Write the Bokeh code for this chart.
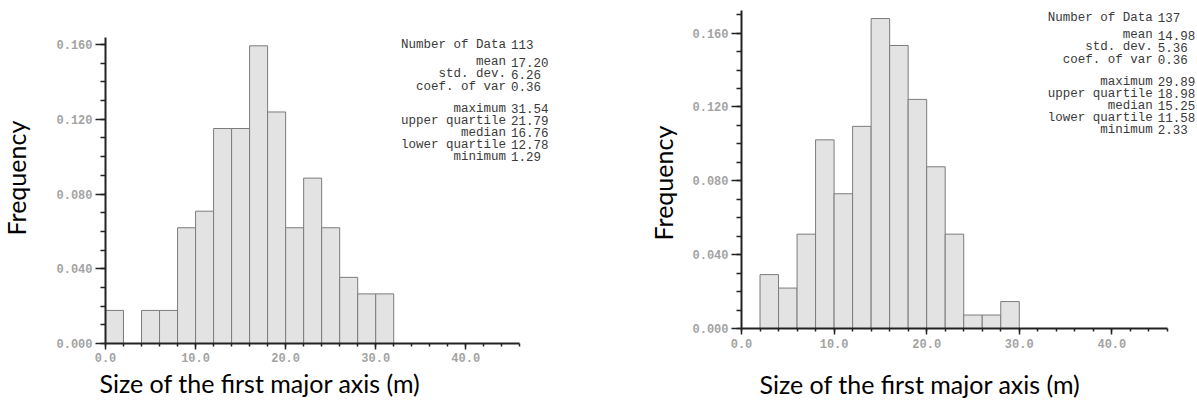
from bokeh.plotting import figure
from bokeh.layouts import row
from bokeh.models import Range1d, FixedTicker, PrintfTickFormatter, Title, ColumnDataSource
from bokeh.core.properties import value
from bokeh.embed import file_html
from bokeh.resources import INLINE

# ---------------- data ----------------
bin_width = 2.0
# left histogram (bins of 2 m starting at 0)
counts_a = [2, 0, 2, 2, 7, 8, 13, 13, 18, 14, 7, 10, 7, 4, 3, 3]
n_a = 113
# right histogram
counts_b = [0, 4, 3, 7, 14, 10, 15, 23, 21, 17, 12, 7, 1, 1, 2]
n_b = 137

stat_names = ["Number of Data", "mean", "std. dev.", "coef. of var",
              "maximum", "upper quartile", "median", "lower quartile", "minimum"]
stats_a = ["113", "17.20", "6.26", "0.36", "31.54", "21.79", "16.76", "12.78", "1.29"]
stats_b = ["137", "14.98", "5.36", "0.36", "29.89", "18.98", "15.25", "11.58", "2.33"]

y_major = [0.0, 0.04, 0.08, 0.12, 0.16]
y_minor_all = [i / 100 for i in range(0, 18)]
x_major = [0, 10, 20, 30, 40]
x_minor = list(range(0, 47, 2))

x_label = "Size of the first major axis (m)"
y_label = "Frequency"

# ---------------- styling / layout ----------------
MONO = "Liberation Mono"
SANS = "Lato"
LABEL_SIZE = "25px"
STAT_SIZE = "12.5px"
FIG_H = 401
stat_row_offsets = [0, 17.5, 29.5, 42, 64, 76, 88, 100, 112]


def spacer_title(size):
    # invisible title used only to reserve space in a side panel
    return Title(text=" ", text_font_size="1px", standoff=size, text_color="white")


def make_chart(counts, n, stats, *, width, border_left, frame_bottom,
               px_per_x, px_per_016, axis_top, xtick_standoff,
               xlab_offset, xlab_standoff, xlab_spacer,
               ylab_offset, ylab_standoff, ylab_spacer,
               stat_label_px, stat_value_px, stat_top_px):
    border_bottom = FIG_H - frame_bottom
    frame_h = frame_bottom
    frame_w = width - border_left
    y_scale = 0.16 / px_per_016
    x_end = frame_w / px_per_x
    y_end = frame_h * y_scale

    p = figure(width=width, height=FIG_H, output_backend="svg", toolbar_location=None,
               x_range=Range1d(0, x_end), y_range=Range1d(0, y_end),
               min_border_left=border_left, min_border_bottom=border_bottom,
               min_border_top=0, min_border_right=0)
    p.frame_align = False
    p.outline_line_color = None
    p.xgrid.visible = False
    p.ygrid.visible = False
    p.background_fill_color = "white"
    p.border_fill_color = "white"

    lefts = [i * bin_width for i in range(len(counts))]
    rights = [l + bin_width for l in lefts]
    freqs = [c / n for c in counts]
    src = ColumnDataSource(dict(left=lefts, right=rights, top=freqs))
    p.quad(left="left", right="right", bottom=0, top="top", source=src,
           fill_color="#e3e3e3", line_color="#7c7c7c", line_width=1)

    # stats text block (layout px converted to data units)
    ys = [(frame_h - (stat_top_px + o)) * y_scale for o in stat_row_offsets]
    lx = [stat_label_px / px_per_x] * len(ys)
    vx = [stat_value_px / px_per_x] * len(ys)
    p.text(x=lx, y=ys, text=stat_names, text_font=value(MONO), text_font_size=STAT_SIZE,
           text_align="right", text_baseline="middle", text_color="#3a3a3a")
    p.text(x=vx, y=ys, text=stats, text_font=value(MONO), text_font_size=STAT_SIZE,
           text_align="left", text_baseline="middle", text_color="#3a3a3a")

    # axes
    xa, ya = p.xaxis[0], p.yaxis[0]
    for ax in (xa, ya):
        ax.axis_line_width = 2
        ax.axis_line_color = "#222222"
        ax.major_tick_line_color = "#222222"
        ax.minor_tick_line_color = "#222222"
        ax.major_tick_line_width = 1.5
        ax.minor_tick_line_width = 1.5
        ax.major_label_text_font = MONO
        ax.major_label_text_font_size = "12px"
        ax.major_label_text_font_style = "bold"
        ax.major_label_text_color = "#a3a3a3"
        ax.major_tick_in = 0
        ax.minor_tick_in = 0

    xa.ticker = FixedTicker(ticks=x_major, minor_ticks=x_minor)
    xa.formatter = PrintfTickFormatter(format="%.1f")
    xa.bounds = (0, 46)
    xa.major_tick_out = 6
    xa.minor_tick_out = 3
    xa.major_label_standoff = xtick_standoff

    ya.ticker = FixedTicker(ticks=y_major,
                            minor_ticks=[t for t in y_minor_all if t <= axis_top])
    ya.formatter = PrintfTickFormatter(format="%.3f")
    ya.bounds = (0, axis_top)
    ya.major_tick_out = 10
    ya.minor_tick_out = 5
    ya.major_label_standoff = 3

    # x axis title (below)
    if xlab_spacer > 0:
        p.add_layout(spacer_title(xlab_spacer), "below")
    p.add_layout(Title(text=x_label, align="left", vertical_align="bottom",
                       offset=xlab_offset, standoff=xlab_standoff,
                       text_font=SANS, text_font_size=LABEL_SIZE,
                       text_font_style="normal", text_color="black"), "below")
    # y axis title (left)
    if ylab_spacer > 0:
        p.add_layout(spacer_title(ylab_spacer), "left")
    p.add_layout(Title(text=y_label, align="left", vertical_align="top",
                       offset=ylab_offset, standoff=ylab_standoff,
                       text_font=SANS, text_font_size=LABEL_SIZE,
                       text_font_style="normal", text_color="black"), "left")
    return p


SPLIT = 646
p1 = make_chart(counts_a, n_a, stats_a, width=SPLIT, border_left=103, frame_bottom=343,
                px_per_x=9.04, px_per_016=299, axis_top=0.1637, xtick_standoff=3,
                xlab_offset=-6, xlab_standoff=2, xlab_spacer=0,
                ylab_offset=108, ylab_standoff=1, ylab_spacer=17,
                stat_label_px=402, stat_value_px=407, stat_top_px=44)
p2 = make_chart(counts_b, n_b, stats_b, width=1195 - SPLIT, border_left=739 - SPLIT,
                frame_bottom=328, px_per_x=9.3, px_per_016=295.4, axis_top=0.172,
                xtick_standoff=4,
                xlab_offset=18, xlab_standoff=0, xlab_spacer=13,
                ylab_offset=88, ylab_standoff=3, ylab_spacer=5,
                stat_label_px=413, stat_value_px=418, stat_top_px=17)

layout = row(p1, p2)
open("out.html", "w").write(file_html(layout, INLINE))
